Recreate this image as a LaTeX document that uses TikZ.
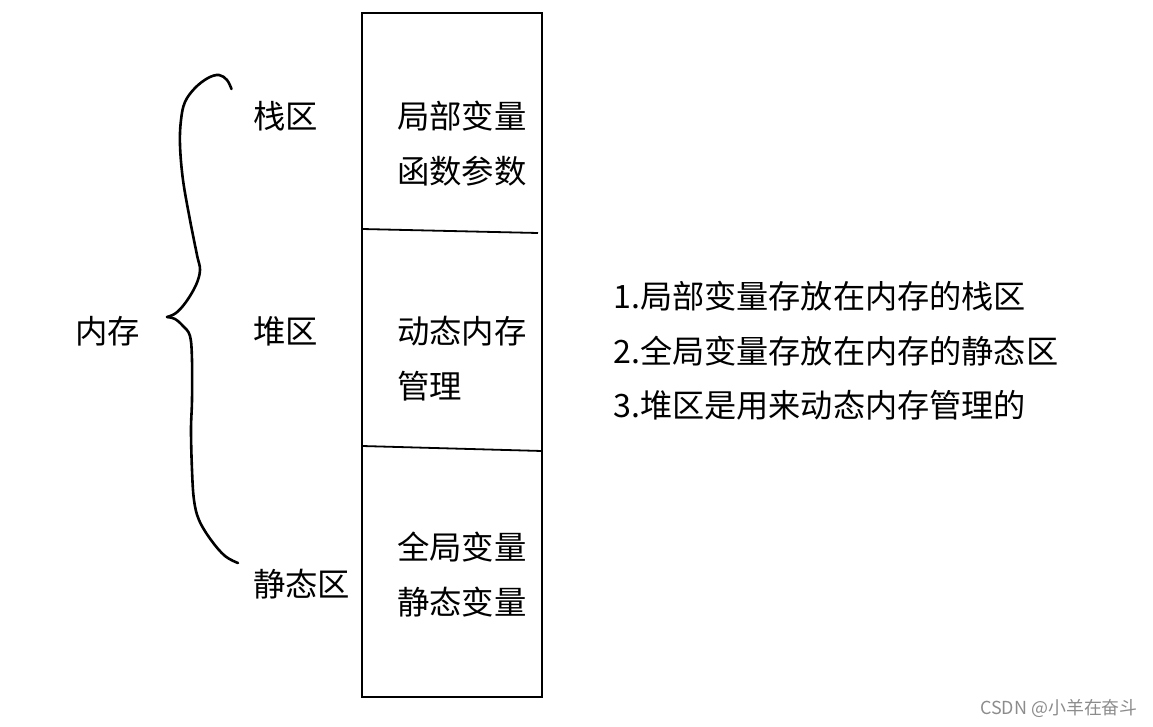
\documentclass[tikz,border=0pt]{standalone}
\usepackage{fontspec}
\setmainfont{Noto Sans CJK SC}
\begin{document}
\begin{tikzpicture}[x=1bp,y=-1bp,
  txt/.style={anchor=west,inner sep=0pt,font=\fontsize{32.5}{32.5}\selectfont},
  rtxt/.style={anchor=west,inner sep=0pt,font=\fontsize{32.3}{32.3}\selectfont},
  wm/.style={anchor=east,inner sep=0pt,text=black!45,font=\fontsize{18}{18}\selectfont},
  edge/.style={line width=1.8bp,black},
  brace/.style={line width=2.6bp,black,line cap=round,line join=round}]
\useasboundingbox (0,0) rectangle (1153,727);
% box
\coordinate (tl) at (362,13);
\coordinate (br) at (542,697);
\draw[edge] (tl) rectangle (br);
\coordinate (d1a) at (362,229);
\coordinate (d1b) at (538,233);
\coordinate (d2a) at (362,446);
\coordinate (d2b) at (542,451);
\draw[edge] (d1a) -- (d1b);
\draw[edge] (d2a) -- (d2b);
% brace
\draw[brace] plot[smooth,tension=0.6] coordinates {(231.5,89) (227,80) (219,75) (208,78) (195,88) (185,102) (181,120) (180,145) (183,180) (190,220) (197,255) (200,270) (196,285) (186,302) (176,313) (167,317)};
\draw[brace] plot[smooth,tension=0.6] coordinates {(167,317) (175,319) (183,326) (190,336) (192,360) (192,400) (191,430) (192,470) (194,500) (199,520) (211,540) (225,556) (238,563)};
% labels
\node[txt] (neicun) at (75,331) {内存};
\node[txt] (zhan) at (253,116) {栈区};
\node[txt] (dui) at (253,331) {堆区};
\node[txt] (jingtai) at (253,584) {静态区};
\node[txt] (a1) at (397,116) {局部变量};
\node[txt] (a2) at (397,171) {函数参数};
\node[txt] (b1) at (397,331) {动态内存};
\node[txt] (b2) at (397,386) {管理};
\node[txt] (c1) at (397,547) {全局变量};
\node[txt] (c2) at (397,602) {静态变量};
\node[rtxt] (r1) at (613,296) {1.局部变量存放在内存的栈区};
\node[rtxt] (r2) at (613,351) {2.全局变量存放在内存的静态区};
\node[rtxt] (r3) at (613,405) {3.堆区是用来动态内存管理的};
\node[wm] (w) at (1138,708) {CSDN @小羊在奋斗};
\end{tikzpicture}
\end{document}
